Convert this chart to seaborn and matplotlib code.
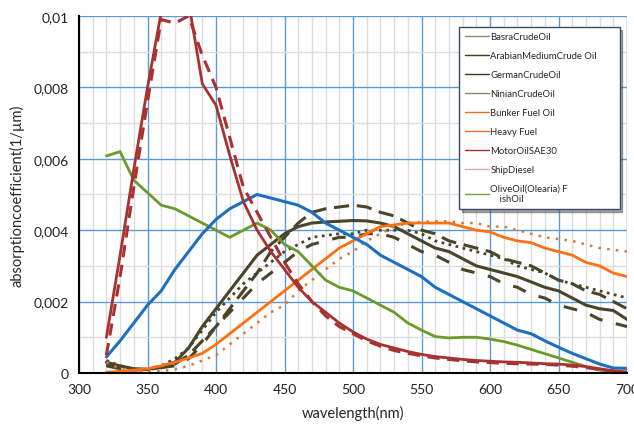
import numpy as np
import pandas as pd
import matplotlib
matplotlib.use("Agg")
import matplotlib.pyplot as plt
import seaborn as sns
from matplotlib.lines import Line2D
from matplotlib.ticker import MultipleLocator

# Wavelengths (nm), 320..700 every 10 nm
wavelength = list(range(320, 701, 10))

# absorption coefficient (1/um)
motor_oil = [0.0010, 0.0033, 0.0057, 0.0080, 0.0101, 0.0108, 0.0104, 0.0081, 0.0075, 0.0061,
             0.0048, 0.0040, 0.0034, 0.0029, 0.0024, 0.0020, 0.0017, 0.0014, 0.00115, 0.00095,
             0.0008, 0.0007, 0.0006, 0.00052, 0.00046, 0.00042, 0.00038, 0.00035, 0.00033, 0.00031,
             0.0003, 0.00028, 0.00026, 0.00025, 0.00022, 0.00018, 0.00012, 0.00006, 0.00003]
ship_diesel = [0.0005, 0.0027, 0.0052, 0.0076, 0.0099, 0.0098, 0.0100, 0.0089, 0.0080, 0.0066,
               0.0052, 0.0045, 0.0038, 0.0031, 0.0025, 0.0020, 0.0016, 0.0013, 0.0011, 0.0009,
               0.00075, 0.00063, 0.00055, 0.00048, 0.00042, 0.00038, 0.00034, 0.00031, 0.00029, 0.00027,
               0.00026, 0.00025, 0.00024, 0.00022, 0.00019, 0.00015, 0.0001, 0.00005, 0.00002]
olive_oil = [0.00608, 0.0062, 0.0054, 0.00505, 0.0047, 0.0046, 0.0044, 0.0042, 0.0040, 0.0038,
             0.0040, 0.0042, 0.0040, 0.0036, 0.0034, 0.0030, 0.0026, 0.0024, 0.0023, 0.0021,
             0.0019, 0.0017, 0.0014, 0.0012, 0.00102, 0.00098, 0.001, 0.001, 0.00095, 0.00088,
             0.00078, 0.00066, 0.00054, 0.00042, 0.0003, 0.00018, 0.00008, 0.00003, 0.0]
fish_oil = [0.00045, 0.0009, 0.0014, 0.0019, 0.0023, 0.0029, 0.0034, 0.0039, 0.0043, 0.0046,
            0.0048, 0.0050, 0.0049, 0.0048, 0.0047, 0.0045, 0.0042, 0.0040, 0.0038, 0.0036,
            0.0033, 0.0031, 0.0029, 0.0027, 0.0024, 0.0022, 0.0020, 0.0018, 0.0016, 0.0014,
            0.0012, 0.0011, 0.0009, 0.00072, 0.00055, 0.0004, 0.00025, 0.00014, 0.00013]
bunker_fuel = [0.00002, 0.00005, 0.00008, 0.00012, 0.0002, 0.0003, 0.00042, 0.00055, 0.0008, 0.0011,
               0.0014, 0.0017, 0.0020, 0.0023, 0.0026, 0.0029, 0.0032, 0.0035, 0.0037, 0.0039,
               0.0041, 0.00415, 0.0042, 0.0042, 0.0042, 0.0042, 0.0041, 0.0040, 0.00395, 0.0038,
               0.0037, 0.00365, 0.0035, 0.0034, 0.0033, 0.0031, 0.0030, 0.0028, 0.0027]
heavy_fuel = [0.0003, 0.00012, 0.00005, 0.00004, 0.00005, 0.0001, 0.0002, 0.00035, 0.0005, 0.0008,
              0.0011, 0.0014, 0.0017, 0.0019, 0.0023, 0.0026, 0.0029, 0.0032, 0.0034, 0.0037,
              0.0039, 0.0041, 0.0042, 0.00423, 0.00425, 0.00425, 0.0042, 0.0042, 0.0041, 0.0041,
              0.0040, 0.0039, 0.0038, 0.00375, 0.0037, 0.0036, 0.0035, 0.00345, 0.0034]
arabian_crude = [0.0003, 0.0002, 0.00012, 0.0001, 0.00018, 0.0003, 0.0007, 0.0013, 0.0018, 0.0023,
                 0.0028, 0.0033, 0.0036, 0.0039, 0.0041, 0.0042, 0.00423, 0.00425, 0.00427, 0.00426,
                 0.0042, 0.0041, 0.0039, 0.0037, 0.0035, 0.0034, 0.0032, 0.0030, 0.0029, 0.0028,
                 0.0027, 0.00255, 0.0024, 0.0023, 0.0021, 0.0019, 0.0018, 0.00175, 0.0015]
german_crude = [0.0002, 0.00012, 0.00008, 0.0001, 0.00015, 0.00025, 0.0005, 0.0009, 0.0013, 0.0018,
                0.0023, 0.0028, 0.0034, 0.0038, 0.0042, 0.0045, 0.0046, 0.00465, 0.0047, 0.00465,
                0.0045, 0.0044, 0.0042, 0.0040, 0.0039, 0.0037, 0.0036, 0.0035, 0.0034, 0.0032,
                0.0031, 0.0030, 0.0028, 0.0026, 0.0025, 0.0023, 0.0022, 0.002, 0.0018]
basra_crude = [0.00035, 0.0002, 0.0001, 0.0001, 0.0002, 0.0004, 0.0007, 0.0012, 0.0017, 0.0021,
               0.0025, 0.0028, 0.0031, 0.0034, 0.0036, 0.0038, 0.00385, 0.0039, 0.0039, 0.004,
               0.004, 0.004, 0.004, 0.0039, 0.0037, 0.0036, 0.0035, 0.0034, 0.0033, 0.0032,
               0.0030, 0.0029, 0.0028, 0.0026, 0.0025, 0.0024, 0.0023, 0.0022, 0.0021]
ninian_crude = [0.00025, 0.00015, 0.0001, 0.0001, 0.00015, 0.0002, 0.0004, 0.0008, 0.0013, 0.0017,
                0.0021, 0.0025, 0.0028, 0.0031, 0.0034, 0.0036, 0.0037, 0.0038, 0.0038, 0.0039,
                0.0039, 0.0038, 0.0036, 0.0034, 0.0033, 0.0031, 0.0029, 0.0028, 0.0027, 0.0025,
                0.0024, 0.0022, 0.0021, 0.0019, 0.0018, 0.0017, 0.0015, 0.0014, 0.0013]

legend_labels = ["BasraCrudeOil", "ArabianMediumCrude Oil", "GermanCrudeOil", "NinianCrudeOil",
                 "Bunker Fuel Oil", "Heavy Fuel", "MotorOilSAE30", "ShipDiesel",
                 "OliveOil(Olearia) F\n    ishOil"]
legend_colors = ["#8a8a6a", "#3c3c18", "#3c3c18", "#8a8a6a", "#f07020", "#f07020",
                 "#a03030", "#e8a8a8", "#70a040"]

y_ticks = [0, 0.002, 0.004, 0.006, 0.008, 0.01]
y_tick_labels = ["0", "0,002", "0,004", "0,006", "0,008", "0,01"]
x_ticks = [300, 350, 400, 450, 500, 550, 600, 650, 700]

sns.set_style("white")
plt.rcParams['font.family'] = ['Lato', 'DejaVu Sans']

fig = plt.figure(figsize=(6.34, 4.31), dpi=100)
ax = fig.add_axes([0.1246, 0.1323, 0.8644, 0.8283])

dark = "#4a4528"
series = [
    (ninian_crude, dark, (0, (4.5, 4.5)), 2.2),
    (basra_crude, dark, (0, (1, 1.6)), 2.0),
    (german_crude, dark, (0, (5, 2.5)), 2.2),
    (arabian_crude, dark, "-", 2.2),
    (heavy_fuel, "#d87838", (0, (1, 2.5)), 1.8),
    (bunker_fuel, "#ff7010", "-", 2.0),
    (olive_oil, "#6b9a2c", "-", 2.0),
    (fish_oil, "#1f6fbf", "-", 2.2),
    (ship_diesel, "#a83232", (0, (4, 2.5)), 2.2),
    (motor_oil, "#a83232", "-", 2.0),
]
for vals, col, ls, lw in series:
    df = pd.DataFrame({"wavelength": wavelength, "absorption": vals})
    sns.lineplot(data=df, x="wavelength", y="absorption", ax=ax, color=col,
                 linestyle=ls, linewidth=lw, legend=False)

ax.set_xlim(300, 700)
ax.set_ylim(0, 0.01)
ax.set_xticks(x_ticks)
ax.set_yticks(y_ticks)
ax.set_yticklabels(y_tick_labels)
ax.xaxis.set_minor_locator(MultipleLocator(10))
ax.yaxis.set_minor_locator(MultipleLocator(0.001))
ax.grid(True, which="minor", color="#dcdcdc", linewidth=1.0, zorder=0)
ax.grid(True, which="major", color="#5b9bd5", linewidth=1.0, zorder=0)
ax.set_axisbelow(True)

for s in ["top", "right"]:
    ax.spines[s].set_visible(False)
for s in ["left", "bottom"]:
    ax.spines[s].set_color("black")
    ax.spines[s].set_linewidth(1.5)
ax.tick_params(axis="both", which="major", direction="out", length=4, width=1,
               color="black", labelsize=10, colors="#222222")
ax.tick_params(which="minor", length=0)

ax.set_xlabel("wavelength(nm)", fontsize=10.5, labelpad=7)
ax.set_ylabel("absorptioncoefficient(1/µm)", fontsize=10.5, labelpad=6)

handles = [Line2D([0], [0], color=c, linewidth=1.0) for c in legend_colors]
leg = ax.legend(handles, legend_labels, loc="upper left",
                bbox_to_anchor=(0.685, 0.47, 0.31, 0.513), mode="expand",
                fontsize=6.8, labelspacing=1.05, handlelength=2.6, handletextpad=0.1,
                frameon=True, fancybox=False, shadow=True, borderpad=0.6)
leg.get_frame().set_edgecolor("#3a4a6a")
leg.get_frame().set_linewidth(1.0)
leg.get_frame().set_facecolor("white")

fig.savefig("out.png", dpi=100)
